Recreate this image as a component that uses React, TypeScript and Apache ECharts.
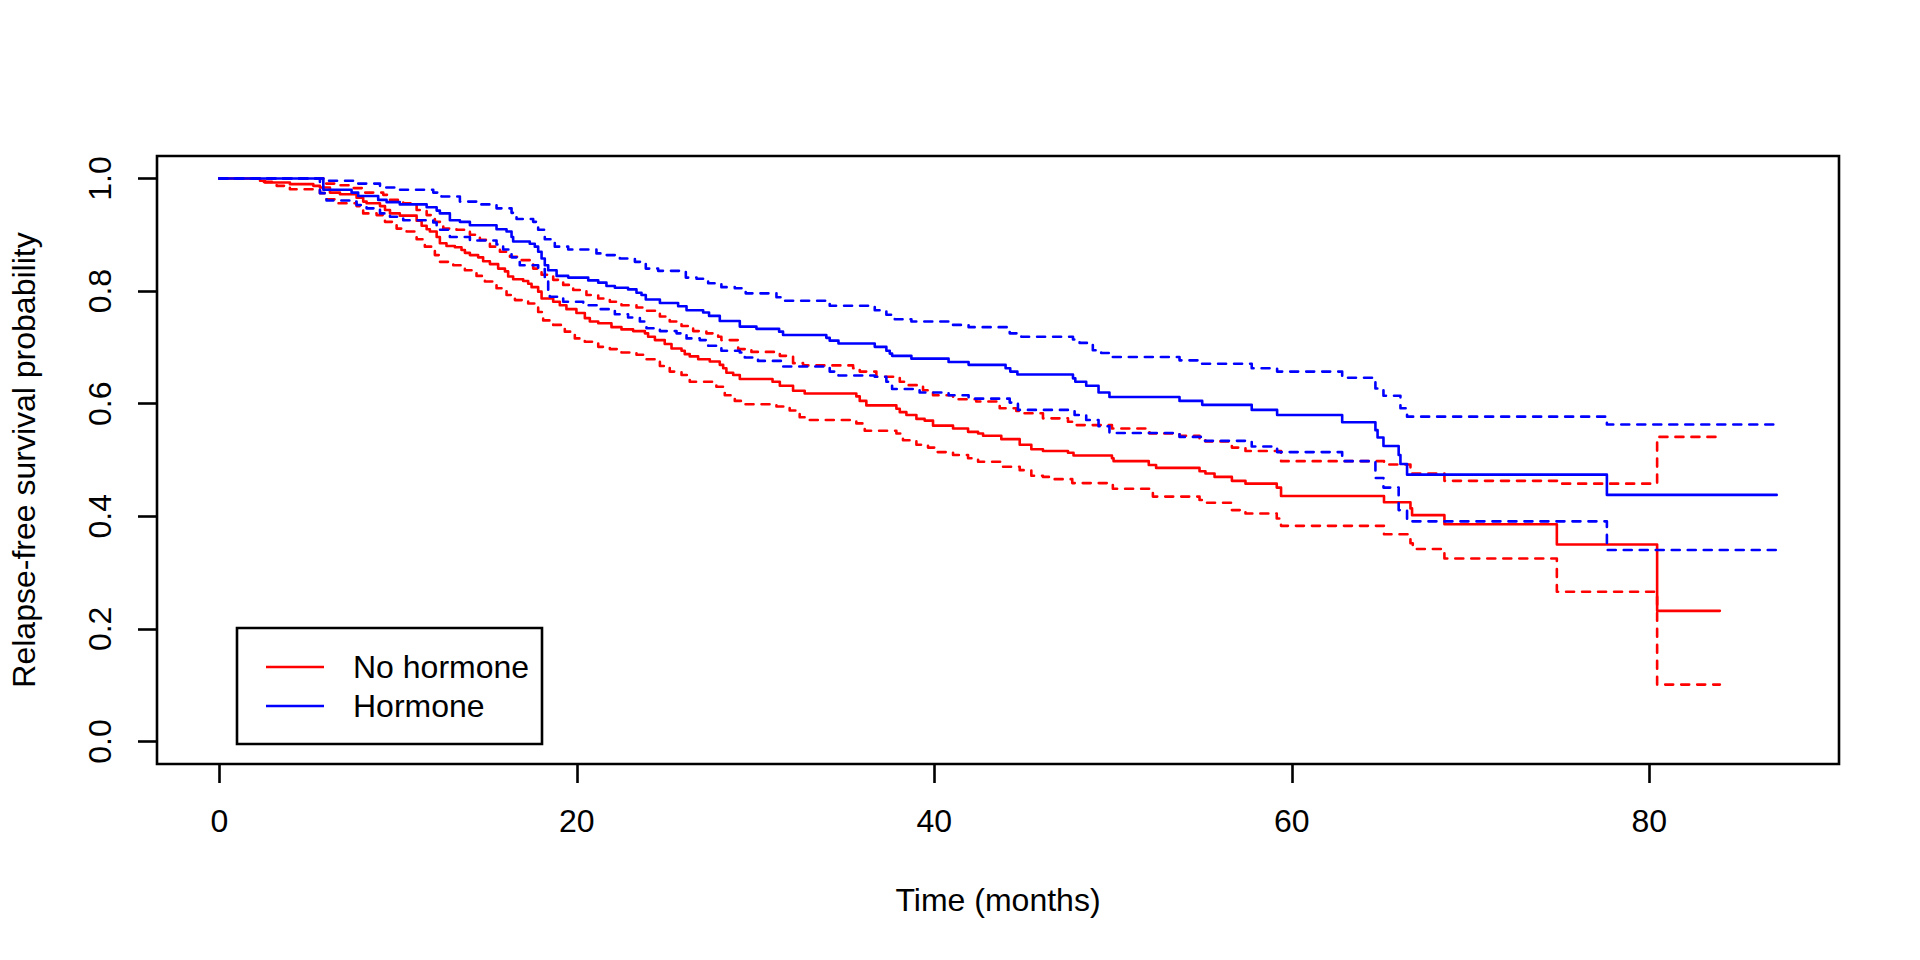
import React, { useEffect, useRef } from "react";
import * as echarts from "echarts";

// Kaplan-Meier step curves: [time (months), survival probability]
const noHormoneSurv: [number, number][] = [
  [0, 1.0], [2.28, 0.996], [2.56, 0.993], [3.95, 0.99], [5.26, 0.987], [5.63, 0.984], [6.19, 0.975], [6.75, 0.972],
  [7.68, 0.966], [8.05, 0.959], [8.24, 0.956], [8.99, 0.951], [9.27, 0.944], [9.55, 0.938], [10.1, 0.934], [11.04, 0.925],
  [11.32, 0.916], [11.6, 0.91], [11.78, 0.906], [12.16, 0.896], [12.34, 0.885], [12.71, 0.88], [13.18, 0.878], [13.55, 0.873],
  [13.74, 0.868], [14.02, 0.864], [14.48, 0.86], [14.76, 0.853], [15.14, 0.848], [15.6, 0.84], [15.98, 0.835], [16.16, 0.826],
  [16.44, 0.821], [17.0, 0.818], [17.28, 0.813], [17.47, 0.807], [17.84, 0.799], [18.03, 0.787], [18.68, 0.781], [19.05, 0.775],
  [19.42, 0.768], [19.98, 0.761], [20.45, 0.752], [20.73, 0.746], [21.2, 0.743], [21.94, 0.736], [22.5, 0.732], [23.15, 0.729],
  [23.81, 0.725], [23.99, 0.719], [24.37, 0.713], [24.92, 0.706], [25.3, 0.698], [25.86, 0.694], [26.04, 0.688], [26.32, 0.684],
  [26.79, 0.679], [27.44, 0.675], [28.0, 0.669], [28.19, 0.663], [28.37, 0.655], [28.75, 0.651], [29.12, 0.644], [30.95, 0.639],
  [31.36, 0.632], [32.1, 0.623], [32.75, 0.618], [35.64, 0.613], [35.83, 0.605], [36.2, 0.597], [37.88, 0.591], [38.07, 0.585],
  [38.44, 0.58], [39.0, 0.573], [39.46, 0.57], [39.93, 0.561], [41.05, 0.556], [41.89, 0.55], [42.45, 0.547], [42.73, 0.543],
  [43.75, 0.537], [44.78, 0.527], [45.43, 0.519], [46.08, 0.516], [47.48, 0.513], [47.79, 0.508], [49.94, 0.503], [50.03, 0.498],
  [52.0, 0.491], [52.41, 0.486], [54.84, 0.48], [55.17, 0.476], [55.68, 0.47], [56.65, 0.463], [57.41, 0.458], [59.16, 0.451],
  [59.4, 0.436], [65.16, 0.425], [66.64, 0.414], [66.73, 0.402], [68.54, 0.386], [74.83, 0.35], [80.44, 0.232], [83.95, 0.232],
];

const noHormoneUpper: [number, number][] = [
  [0, 1.0], [5.82, 0.991], [6.56, 0.988], [7.31, 0.983], [8.05, 0.975], [9.17, 0.971], [9.55, 0.962], [10.29, 0.956],
  [11.04, 0.944], [11.6, 0.935], [12.06, 0.923], [12.53, 0.911], [13.27, 0.909], [14.02, 0.9], [14.58, 0.891], [15.14, 0.879],
  [15.7, 0.87], [16.26, 0.861], [16.91, 0.855], [17.56, 0.84], [18.03, 0.829], [18.68, 0.82], [19.24, 0.811], [19.8, 0.802],
  [20.54, 0.793], [21.2, 0.787], [21.85, 0.781], [22.5, 0.775], [23.34, 0.771], [23.9, 0.765], [24.65, 0.755], [25.2, 0.746],
  [25.86, 0.738], [26.51, 0.729], [27.25, 0.725], [27.91, 0.719], [28.09, 0.713], [29.03, 0.697], [29.77, 0.692], [31.36, 0.685],
  [32.1, 0.672], [32.66, 0.668], [35.46, 0.663], [35.83, 0.657], [36.76, 0.648], [38.07, 0.639], [38.53, 0.633], [39.37, 0.624],
  [39.93, 0.615], [41.05, 0.608], [42.35, 0.604], [43.66, 0.592], [44.59, 0.587], [44.96, 0.583], [46.08, 0.574], [47.48, 0.568],
  [47.94, 0.562], [49.94, 0.556], [52.04, 0.547], [53.72, 0.543], [54.84, 0.538], [55.17, 0.533], [56.65, 0.522], [57.41, 0.516],
  [59.4, 0.498], [65.16, 0.492], [66.64, 0.476], [68.54, 0.463], [74.96, 0.458], [80.44, 0.541], [83.95, 0.541],
];

const noHormoneLower: [number, number][] = [
  [0, 1.0], [2.28, 0.994], [3.21, 0.987], [3.95, 0.981], [5.63, 0.974], [6.0, 0.963], [6.56, 0.956], [7.68, 0.951],
  [8.05, 0.938], [8.8, 0.935], [9.27, 0.923], [9.92, 0.911], [10.48, 0.906], [11.04, 0.892], [11.5, 0.879], [12.06, 0.864],
  [12.34, 0.852], [13.09, 0.846], [13.74, 0.837], [14.39, 0.827], [14.86, 0.817], [15.51, 0.805], [16.07, 0.793], [16.54, 0.784],
  [17.28, 0.778], [17.84, 0.763], [18.12, 0.748], [18.68, 0.74], [19.33, 0.728], [19.89, 0.716], [20.45, 0.71], [21.2, 0.701],
  [21.85, 0.697], [22.5, 0.691], [23.34, 0.687], [23.9, 0.679], [24.65, 0.667], [25.2, 0.657], [25.86, 0.651], [26.32, 0.639],
  [27.81, 0.63], [28.28, 0.615], [28.84, 0.605], [29.31, 0.599], [31.17, 0.595], [31.91, 0.588], [32.47, 0.576], [33.03, 0.571],
  [35.64, 0.565], [36.11, 0.552], [37.88, 0.547], [38.25, 0.535], [39.0, 0.527], [39.65, 0.522], [40.12, 0.514], [41.05, 0.509],
  [41.89, 0.503], [42.45, 0.497], [43.84, 0.488], [44.78, 0.482], [45.43, 0.472], [46.08, 0.47], [46.73, 0.466], [47.72, 0.459],
  [49.99, 0.449], [52.23, 0.435], [54.84, 0.429], [55.17, 0.424], [56.65, 0.411], [57.41, 0.405], [59.16, 0.396], [59.4, 0.383],
  [65.16, 0.368], [66.64, 0.352], [66.77, 0.342], [68.54, 0.325], [74.83, 0.266], [80.44, 0.101], [83.95, 0.101],
];

const hormoneSurv: [number, number][] = [
  [0, 1.0], [5.82, 0.98], [7.4, 0.975], [7.77, 0.969], [8.89, 0.962], [9.36, 0.958], [10.1, 0.954], [11.6, 0.949],
  [12.16, 0.943], [12.34, 0.938], [12.9, 0.926], [13.46, 0.923], [14.02, 0.917], [15.51, 0.91], [16.07, 0.906], [16.35, 0.896],
  [16.44, 0.888], [17.37, 0.884], [17.65, 0.879], [17.84, 0.87], [18.03, 0.858], [18.21, 0.846], [18.4, 0.837], [18.87, 0.827],
  [19.52, 0.824], [20.64, 0.819], [21.2, 0.815], [21.66, 0.809], [22.13, 0.806], [22.87, 0.803], [23.34, 0.797], [23.62, 0.793],
  [23.86, 0.785], [24.65, 0.779], [25.67, 0.773], [26.14, 0.766], [27.07, 0.762], [27.4, 0.756], [28.0, 0.747], [29.12, 0.737],
  [30.05, 0.733], [31.32, 0.728], [31.54, 0.722], [33.96, 0.717], [34.15, 0.712], [34.64, 0.707], [36.67, 0.701], [37.32, 0.694],
  [37.51, 0.689], [37.64, 0.685], [38.72, 0.68], [40.8, 0.674], [41.92, 0.669], [43.99, 0.663], [44.25, 0.657], [44.65, 0.652],
  [47.76, 0.645], [47.89, 0.639], [48.5, 0.632], [49.19, 0.62], [49.8, 0.612], [53.72, 0.605], [54.99, 0.598], [57.76, 0.589],
  [59.18, 0.58], [62.82, 0.567], [64.68, 0.553], [64.8, 0.54], [65.13, 0.525], [65.98, 0.509], [66.08, 0.493], [66.45, 0.474],
  [77.63, 0.438], [87.13, 0.438],
];

const hormoneUpper: [number, number][] = [
  [0, 1.0], [5.82, 0.996], [7.59, 0.991], [8.99, 0.984], [9.92, 0.98], [11.97, 0.975], [12.43, 0.968], [13.46, 0.959],
  [14.39, 0.954], [15.51, 0.947], [16.35, 0.939], [16.63, 0.928], [17.56, 0.923], [17.84, 0.909], [18.21, 0.892], [18.77, 0.879],
  [19.52, 0.874], [21.1, 0.867], [21.57, 0.864], [22.41, 0.858], [23.25, 0.852], [23.86, 0.84], [24.55, 0.836], [26.1, 0.824],
  [26.7, 0.822], [27.35, 0.814], [28.09, 0.807], [28.84, 0.805], [29.45, 0.796], [31.17, 0.789], [31.63, 0.783], [34.15, 0.774],
  [36.67, 0.766], [37.32, 0.758], [37.79, 0.75], [38.72, 0.746], [41.05, 0.74], [41.92, 0.736], [44.22, 0.725], [44.87, 0.719],
  [47.76, 0.714], [48.13, 0.708], [48.87, 0.695], [49.34, 0.69], [49.8, 0.683], [53.72, 0.677], [54.93, 0.671], [57.76, 0.663],
  [59.18, 0.657], [62.82, 0.646], [64.68, 0.627], [65.13, 0.614], [66.08, 0.592], [66.45, 0.577], [77.63, 0.563], [87.13, 0.563],
];

const hormoneLower: [number, number][] = [
  [0, 1.0], [5.63, 0.974], [6.0, 0.961], [7.31, 0.959], [7.68, 0.953], [8.24, 0.947], [8.99, 0.938], [9.55, 0.932],
  [10.29, 0.926], [11.97, 0.922], [12.16, 0.909], [12.9, 0.896], [14.02, 0.89], [15.51, 0.883], [15.88, 0.874], [16.35, 0.86],
  [16.81, 0.846], [17.84, 0.839], [18.21, 0.82], [18.4, 0.8], [18.49, 0.79], [19.24, 0.781], [20.36, 0.775], [21.2, 0.768],
  [22.13, 0.759], [22.87, 0.753], [23.53, 0.746], [23.9, 0.734], [24.65, 0.729], [25.58, 0.725], [26.14, 0.716], [26.88, 0.713],
  [27.35, 0.703], [28.09, 0.694], [29.12, 0.691], [29.4, 0.682], [30.14, 0.676], [31.54, 0.666], [34.15, 0.657], [34.64, 0.65],
  [36.67, 0.648], [37.32, 0.639], [37.64, 0.626], [39.18, 0.62], [40.8, 0.615], [41.92, 0.609], [44.22, 0.602], [44.68, 0.589],
  [47.85, 0.58], [48.5, 0.571], [49.19, 0.56], [49.8, 0.548], [53.72, 0.541], [54.99, 0.534], [57.76, 0.524], [59.18, 0.514],
  [62.82, 0.498], [64.68, 0.468], [65.13, 0.451], [65.98, 0.411], [66.45, 0.391], [77.63, 0.34], [87.13, 0.34],
];

const groupNames = ["No hormone", "Hormone"];
const groupColors = ["#FF0000", "#0000FF"];
const xTicks = [0, 20, 40, 60, 80];
const yTicks = [0, 0.2, 0.4, 0.6, 0.8, 1.0];
const xTitle = "Time (months)";
const yTitle = "Relapse-free survival probability";

const FONT = "'Liberation Sans', Arial, Helvetica, sans-serif";
const LW = 2.6;

export default function App() {
  const ref = useRef<HTMLDivElement>(null);

  useEffect(() => {
    if (!ref.current) return;
    const chart = echarts.init(ref.current, undefined, { renderer: "svg" });

    const tMax = 87.13;
    const xMin = -0.04 * tMax;
    const xMax = 1.04 * tMax;

    const mk = (name: string, data: [number, number][], color: string, dashed: boolean) => ({
      name,
      type: "line",
      step: "end",
      data,
      symbol: "none",
      silent: true,
      lineStyle: {
        color,
        width: LW,
        type: dashed ? [8, 8] : "solid",
        cap: "round",
        join: "round",
      },
    });

    const gridLeft = 157;
    const gridTop = 156;
    const gridW = 1682;
    const gridH = 608;

    const legendX = 237;
    const legendY = 628;

    chart.setOption({
      animation: false,
      backgroundColor: "#ffffff",
      textStyle: { fontFamily: FONT },
      grid: {
        left: gridLeft,
        top: gridTop,
        width: gridW,
        height: gridH,
        show: true,
        borderColor: "#000000",
        borderWidth: LW,
        backgroundColor: "transparent",
      },
      xAxis: {
        type: "value",
        position: "bottom",
        min: xMin,
        max: xMax,
        splitLine: { show: false },
        axisLine: { show: false, onZero: false },
        axisTick: {
          show: true,
          inside: false,
          customValues: xTicks,
          length: 19,
          lineStyle: { color: "#000", width: LW },
        },
        axisLabel: {
          show: true,
          customValues: xTicks,
          margin: 57,
          verticalAlign: "middle",
          align: "center",
          fontSize: 32,
          color: "#000",
          fontFamily: FONT,
          formatter: (v: number) => String(Math.round(v)),
        },
      },
      yAxis: {
        type: "value",
        position: "left",
        min: -0.04,
        max: 1.04,
        splitLine: { show: false },
        axisLine: { show: false, onZero: false },
        axisTick: {
          show: true,
          inside: false,
          customValues: yTicks,
          length: 19,
          lineStyle: { color: "#000", width: LW },
        },
        axisLabel: {
          show: true,
          customValues: yTicks,
          rotate: 90,
          margin: 57,
          verticalAlign: "middle",
          align: "center",
          fontSize: 32,
          color: "#000",
          fontFamily: FONT,
          formatter: (v: number) => v.toFixed(1),
        },
      },
      series: [
        mk(groupNames[0], noHormoneSurv, groupColors[0], false),
        mk(groupNames[0] + " upper", noHormoneUpper, groupColors[0], true),
        mk(groupNames[0] + " lower", noHormoneLower, groupColors[0], true),
        mk(groupNames[1], hormoneSurv, groupColors[1], false),
        mk(groupNames[1] + " upper", hormoneUpper, groupColors[1], true),
        mk(groupNames[1] + " lower", hormoneLower, groupColors[1], true),
      ],
      graphic: [
        {
          type: "text",
          x: gridLeft + gridW / 2,
          y: 900,
          style: {
            text: xTitle,
            fill: "#000",
            font: `32px ${FONT}`,
            textAlign: "center",
            textVerticalAlign: "middle",
          },
        },
        {
          type: "text",
          x: 24,
          y: gridTop + gridH / 2,
          rotation: Math.PI / 2,
          style: {
            text: yTitle,
            fill: "#000",
            font: `32px ${FONT}`,
            textAlign: "center",
            textVerticalAlign: "middle",
          },
        },
        {
          type: "rect",
          shape: { x: legendX, y: legendY, width: 305, height: 116 },
          style: { fill: "#fff", stroke: "#000", lineWidth: LW },
        },
        ...groupNames.flatMap((name, i) => [
          {
            type: "line",
            shape: { x1: legendX + 29, y1: legendY + 39 + i * 39, x2: legendX + 87, y2: legendY + 39 + i * 39 },
            style: { stroke: groupColors[i], lineWidth: LW },
          },
          {
            type: "text",
            x: legendX + 116,
            y: legendY + 39 + i * 39,
            style: {
              text: name,
              fill: "#000",
              font: `32px ${FONT}`,
              textAlign: "left",
              textVerticalAlign: "middle",
            },
          },
        ]),
      ],
    });

    return () => chart.dispose();
  }, []);

  return (
    <div
      ref={ref}
      style={{ position: "absolute", left: 0, top: 0, width: 1920, height: 960, background: "#fff" }}
    />
  );
}
